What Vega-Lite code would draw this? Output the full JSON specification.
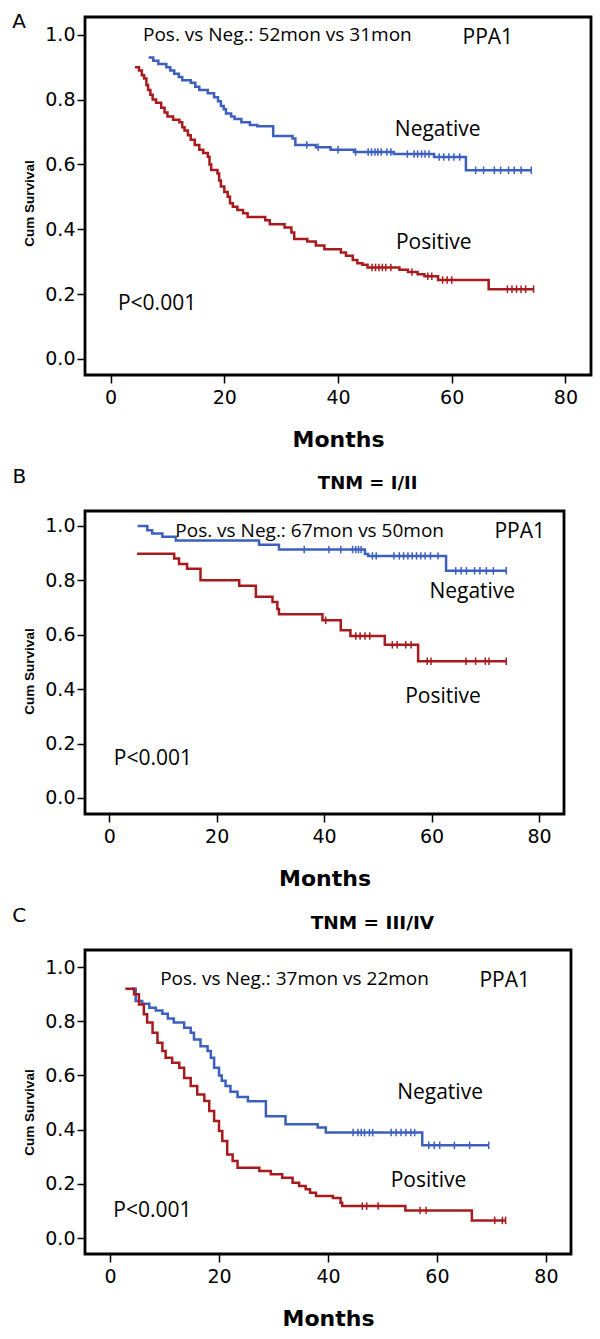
{
  "$schema": "https://vega.github.io/schema/vega-lite/v6.json",
  "background": "white",
  "padding": {"left": 10, "top": 10, "right": 5, "bottom": 5},
  "bounds": "flush",
  "spacing": 136,
  "config": {
    "view": {"stroke": "black", "strokeWidth": 2.8},
    "axis": {"domain": false, "grid": false, "tickColor": "black", "tickWidth": 1.5, "tickSize": 8, "labelFont": "DejaVu Sans", "labelFontSize": 19, "labelColor": "black", "titleColor": "black"},
    "axisX": {"labelPadding": 5, "titleFont": "DejaVu Sans", "titleFontWeight": "bold", "titleFontSize": 22, "titlePadding": 22},
    "axisY": {"labelPadding": 2, "titleFont": "Liberation Sans", "titleFontWeight": "bold", "titleFontSize": 13.5, "titlePadding": 8}
  },
  "datasets": {
    "A": [
      {"g":"Negative","t":6.7,"s":0.93,"c":0},{"g":"Negative","t":7.5,"s":0.92,"c":0},{"g":"Negative","t":8.4,"s":0.91,"c":0},{"g":"Negative","t":9.8,"s":0.90,"c":0},{"g":"Negative","t":10.5,"s":0.89,"c":0},{"g":"Negative","t":11.2,"s":0.88,"c":0},{"g":"Negative","t":12.0,"s":0.87,"c":0},{"g":"Negative","t":12.6,"s":0.86,"c":0},{"g":"Negative","t":14.1,"s":0.852,"c":0},{"g":"Negative","t":14.9,"s":0.84,"c":0},{"g":"Negative","t":15.6,"s":0.83,"c":0},{"g":"Negative","t":17.1,"s":0.82,"c":0},{"g":"Negative","t":18.2,"s":0.807,"c":0},{"g":"Negative","t":18.9,"s":0.795,"c":0},{"g":"Negative","t":19.4,"s":0.78,"c":0},{"g":"Negative","t":19.9,"s":0.77,"c":0},{"g":"Negative","t":20.3,"s":0.757,"c":0},{"g":"Negative","t":21.2,"s":0.748,"c":0},{"g":"Negative","t":21.8,"s":0.74,"c":0},{"g":"Negative","t":23.0,"s":0.73,"c":0},{"g":"Negative","t":24.5,"s":0.722,"c":0},{"g":"Negative","t":25.8,"s":0.718,"c":0},{"g":"Negative","t":28.6,"s":0.688,"c":0},{"g":"Negative","t":32.0,"s":0.68,"c":0},{"g":"Negative","t":32.5,"s":0.66,"c":0},{"g":"Negative","t":34.5,"s":0.66,"c":1},{"g":"Negative","t":36.1,"s":0.653,"c":0},{"g":"Negative","t":36.5,"s":0.653,"c":1},{"g":"Negative","t":38.7,"s":0.645,"c":0},{"g":"Negative","t":40.0,"s":0.645,"c":1},{"g":"Negative","t":42.8,"s":0.638,"c":0},{"g":"Negative","t":43.1,"s":0.638,"c":1},{"g":"Negative","t":45.3,"s":0.638,"c":1},{"g":"Negative","t":45.9,"s":0.638,"c":1},{"g":"Negative","t":46.5,"s":0.638,"c":1},{"g":"Negative","t":47.0,"s":0.638,"c":1},{"g":"Negative","t":47.6,"s":0.638,"c":1},{"g":"Negative","t":48.6,"s":0.638,"c":1},{"g":"Negative","t":49.3,"s":0.638,"c":1},{"g":"Negative","t":49.8,"s":0.632,"c":0},{"g":"Negative","t":52.2,"s":0.632,"c":1},{"g":"Negative","t":53.4,"s":0.632,"c":1},{"g":"Negative","t":54.0,"s":0.632,"c":1},{"g":"Negative","t":54.7,"s":0.632,"c":1},{"g":"Negative","t":55.3,"s":0.632,"c":1},{"g":"Negative","t":56.0,"s":0.632,"c":1},{"g":"Negative","t":56.9,"s":0.623,"c":0},{"g":"Negative","t":57.8,"s":0.623,"c":1},{"g":"Negative","t":58.6,"s":0.623,"c":1},{"g":"Negative","t":59.5,"s":0.623,"c":1},{"g":"Negative","t":60.4,"s":0.623,"c":1},{"g":"Negative","t":61.4,"s":0.623,"c":1},{"g":"Negative","t":62.5,"s":0.582,"c":0},{"g":"Negative","t":64.2,"s":0.582,"c":1},{"g":"Negative","t":65.6,"s":0.582,"c":1},{"g":"Negative","t":67.5,"s":0.582,"c":1},{"g":"Negative","t":68.6,"s":0.582,"c":1},{"g":"Negative","t":70.0,"s":0.582,"c":1},{"g":"Negative","t":71.0,"s":0.582,"c":1},{"g":"Negative","t":72.2,"s":0.582,"c":1},{"g":"Negative","t":74.0,"s":0.582,"c":1},
      {"g":"Positive","t":4.3,"s":0.90,"c":0},{"g":"Positive","t":5.0,"s":0.89,"c":0},{"g":"Positive","t":5.5,"s":0.875,"c":0},{"g":"Positive","t":5.9,"s":0.865,"c":0},{"g":"Positive","t":6.3,"s":0.845,"c":0},{"g":"Positive","t":6.6,"s":0.83,"c":0},{"g":"Positive","t":7.0,"s":0.815,"c":0},{"g":"Positive","t":7.4,"s":0.80,"c":0},{"g":"Positive","t":8.0,"s":0.79,"c":0},{"g":"Positive","t":8.9,"s":0.775,"c":0},{"g":"Positive","t":9.5,"s":0.76,"c":0},{"g":"Positive","t":10.0,"s":0.748,"c":0},{"g":"Positive","t":11.0,"s":0.738,"c":0},{"g":"Positive","t":12.1,"s":0.73,"c":0},{"g":"Positive","t":12.6,"s":0.715,"c":0},{"g":"Positive","t":13.0,"s":0.705,"c":0},{"g":"Positive","t":13.6,"s":0.69,"c":0},{"g":"Positive","t":14.1,"s":0.676,"c":0},{"g":"Positive","t":14.8,"s":0.66,"c":0},{"g":"Positive","t":15.6,"s":0.645,"c":0},{"g":"Positive","t":16.3,"s":0.635,"c":0},{"g":"Positive","t":17.1,"s":0.624,"c":0},{"g":"Positive","t":17.4,"s":0.60,"c":0},{"g":"Positive","t":17.7,"s":0.583,"c":0},{"g":"Positive","t":18.8,"s":0.572,"c":0},{"g":"Positive","t":19.1,"s":0.55,"c":0},{"g":"Positive","t":19.4,"s":0.532,"c":0},{"g":"Positive","t":20.0,"s":0.515,"c":0},{"g":"Positive","t":20.6,"s":0.50,"c":0},{"g":"Positive","t":21.0,"s":0.48,"c":0},{"g":"Positive","t":21.5,"s":0.469,"c":0},{"g":"Positive","t":22.3,"s":0.459,"c":0},{"g":"Positive","t":23.3,"s":0.449,"c":0},{"g":"Positive","t":24.1,"s":0.438,"c":0},{"g":"Positive","t":27.2,"s":0.428,"c":0},{"g":"Positive","t":28.0,"s":0.415,"c":0},{"g":"Positive","t":30.6,"s":0.405,"c":0},{"g":"Positive","t":31.8,"s":0.39,"c":0},{"g":"Positive","t":32.3,"s":0.37,"c":0},{"g":"Positive","t":34.6,"s":0.362,"c":0},{"g":"Positive","t":36.1,"s":0.35,"c":0},{"g":"Positive","t":37.6,"s":0.338,"c":0},{"g":"Positive","t":40.5,"s":0.328,"c":0},{"g":"Positive","t":41.4,"s":0.318,"c":0},{"g":"Positive","t":42.6,"s":0.305,"c":0},{"g":"Positive","t":43.4,"s":0.295,"c":0},{"g":"Positive","t":44.3,"s":0.29,"c":0},{"g":"Positive","t":45.2,"s":0.282,"c":0},{"g":"Positive","t":46.0,"s":0.282,"c":1},{"g":"Positive","t":46.6,"s":0.282,"c":1},{"g":"Positive","t":47.2,"s":0.282,"c":1},{"g":"Positive","t":47.8,"s":0.282,"c":1},{"g":"Positive","t":48.4,"s":0.282,"c":1},{"g":"Positive","t":49.3,"s":0.282,"c":1},{"g":"Positive","t":50.8,"s":0.275,"c":0},{"g":"Positive","t":52.3,"s":0.268,"c":0},{"g":"Positive","t":53.0,"s":0.268,"c":1},{"g":"Positive","t":54.0,"s":0.261,"c":0},{"g":"Positive","t":55.2,"s":0.255,"c":0},{"g":"Positive","t":55.8,"s":0.255,"c":1},{"g":"Positive","t":56.5,"s":0.255,"c":1},{"g":"Positive","t":57.6,"s":0.243,"c":0},{"g":"Positive","t":58.4,"s":0.243,"c":1},{"g":"Positive","t":59.2,"s":0.243,"c":1},{"g":"Positive","t":60.0,"s":0.243,"c":1},{"g":"Positive","t":66.5,"s":0.215,"c":0},{"g":"Positive","t":69.8,"s":0.215,"c":1},{"g":"Positive","t":70.6,"s":0.215,"c":1},{"g":"Positive","t":71.4,"s":0.215,"c":1},{"g":"Positive","t":72.2,"s":0.215,"c":1},{"g":"Positive","t":73.0,"s":0.215,"c":1},{"g":"Positive","t":74.4,"s":0.215,"c":1}
    ],
    "B": [
      {"g":"Negative","t":5.3,"s":1.0,"c":0},{"g":"Negative","t":7.1,"s":0.984,"c":0},{"g":"Negative","t":8.0,"s":0.972,"c":0},{"g":"Negative","t":9.9,"s":0.96,"c":0},{"g":"Negative","t":12.4,"s":0.947,"c":0},{"g":"Negative","t":27.9,"s":0.931,"c":0},{"g":"Negative","t":31.6,"s":0.913,"c":0},{"g":"Negative","t":36.3,"s":0.913,"c":1},{"g":"Negative","t":40.9,"s":0.913,"c":1},{"g":"Negative","t":43.1,"s":0.913,"c":1},{"g":"Negative","t":45.3,"s":0.913,"c":1},{"g":"Negative","t":45.9,"s":0.913,"c":1},{"g":"Negative","t":46.4,"s":0.913,"c":1},{"g":"Negative","t":46.9,"s":0.913,"c":1},{"g":"Negative","t":47.6,"s":0.897,"c":0},{"g":"Negative","t":48.2,"s":0.89,"c":0},{"g":"Negative","t":49.0,"s":0.89,"c":1},{"g":"Negative","t":49.7,"s":0.89,"c":1},{"g":"Negative","t":53.0,"s":0.89,"c":1},{"g":"Negative","t":54.0,"s":0.89,"c":1},{"g":"Negative","t":54.8,"s":0.89,"c":1},{"g":"Negative","t":55.6,"s":0.89,"c":1},{"g":"Negative","t":56.4,"s":0.89,"c":1},{"g":"Negative","t":57.2,"s":0.89,"c":1},{"g":"Negative","t":58.0,"s":0.89,"c":1},{"g":"Negative","t":58.8,"s":0.89,"c":1},{"g":"Negative","t":59.8,"s":0.89,"c":1},{"g":"Negative","t":61.2,"s":0.89,"c":1},{"g":"Negative","t":62.7,"s":0.835,"c":0},{"g":"Negative","t":64.5,"s":0.835,"c":1},{"g":"Negative","t":65.5,"s":0.835,"c":1},{"g":"Negative","t":66.5,"s":0.835,"c":1},{"g":"Negative","t":68.0,"s":0.835,"c":1},{"g":"Negative","t":69.0,"s":0.835,"c":1},{"g":"Negative","t":70.2,"s":0.835,"c":1},{"g":"Negative","t":71.5,"s":0.835,"c":1},{"g":"Negative","t":73.9,"s":0.835,"c":1},
      {"g":"Positive","t":5.2,"s":0.898,"c":0},{"g":"Positive","t":12.1,"s":0.88,"c":0},{"g":"Positive","t":13.0,"s":0.86,"c":0},{"g":"Positive","t":14.5,"s":0.843,"c":0},{"g":"Positive","t":17.0,"s":0.80,"c":0},{"g":"Positive","t":24.2,"s":0.78,"c":0},{"g":"Positive","t":27.3,"s":0.74,"c":0},{"g":"Positive","t":30.4,"s":0.72,"c":0},{"g":"Positive","t":31.3,"s":0.695,"c":0},{"g":"Positive","t":31.6,"s":0.675,"c":0},{"g":"Positive","t":39.7,"s":0.653,"c":0},{"g":"Positive","t":40.3,"s":0.653,"c":1},{"g":"Positive","t":43.1,"s":0.617,"c":0},{"g":"Positive","t":44.9,"s":0.595,"c":0},{"g":"Positive","t":45.9,"s":0.595,"c":1},{"g":"Positive","t":46.7,"s":0.595,"c":1},{"g":"Positive","t":47.6,"s":0.595,"c":1},{"g":"Positive","t":48.5,"s":0.595,"c":1},{"g":"Positive","t":51.3,"s":0.563,"c":0},{"g":"Positive","t":52.7,"s":0.563,"c":1},{"g":"Positive","t":53.6,"s":0.563,"c":1},{"g":"Positive","t":55.2,"s":0.563,"c":1},{"g":"Positive","t":56.2,"s":0.563,"c":1},{"g":"Positive","t":57.5,"s":0.503,"c":0},{"g":"Positive","t":59.2,"s":0.503,"c":1},{"g":"Positive","t":59.9,"s":0.503,"c":1},{"g":"Positive","t":66.4,"s":0.503,"c":1},{"g":"Positive","t":68.2,"s":0.503,"c":1},{"g":"Positive","t":70.0,"s":0.503,"c":1},{"g":"Positive","t":70.7,"s":0.503,"c":1},{"g":"Positive","t":73.9,"s":0.503,"c":1}
    ],
    "C": [
      {"g":"Negative","t":4.0,"s":0.92,"c":0},{"g":"Negative","t":4.7,"s":0.875,"c":0},{"g":"Negative","t":5.9,"s":0.865,"c":0},{"g":"Negative","t":7.2,"s":0.85,"c":0},{"g":"Negative","t":8.4,"s":0.84,"c":0},{"g":"Negative","t":9.6,"s":0.828,"c":0},{"g":"Negative","t":10.6,"s":0.81,"c":0},{"g":"Negative","t":11.7,"s":0.795,"c":0},{"g":"Negative","t":13.6,"s":0.776,"c":0},{"g":"Negative","t":14.8,"s":0.758,"c":0},{"g":"Negative","t":15.4,"s":0.733,"c":0},{"g":"Negative","t":16.6,"s":0.708,"c":0},{"g":"Negative","t":17.9,"s":0.69,"c":0},{"g":"Negative","t":18.5,"s":0.665,"c":0},{"g":"Negative","t":19.1,"s":0.628,"c":0},{"g":"Negative","t":20.0,"s":0.60,"c":0},{"g":"Negative","t":20.5,"s":0.58,"c":0},{"g":"Negative","t":21.2,"s":0.561,"c":0},{"g":"Negative","t":22.1,"s":0.54,"c":0},{"g":"Negative","t":23.4,"s":0.52,"c":0},{"g":"Negative","t":25.3,"s":0.505,"c":0},{"g":"Negative","t":28.6,"s":0.449,"c":0},{"g":"Negative","t":32.2,"s":0.42,"c":0},{"g":"Negative","t":38.1,"s":0.408,"c":0},{"g":"Negative","t":39.6,"s":0.389,"c":0},{"g":"Negative","t":44.6,"s":0.389,"c":1},{"g":"Negative","t":45.5,"s":0.389,"c":1},{"g":"Negative","t":46.1,"s":0.389,"c":1},{"g":"Negative","t":46.7,"s":0.389,"c":1},{"g":"Negative","t":47.6,"s":0.389,"c":1},{"g":"Negative","t":48.2,"s":0.389,"c":1},{"g":"Negative","t":51.6,"s":0.389,"c":1},{"g":"Negative","t":52.5,"s":0.389,"c":1},{"g":"Negative","t":53.4,"s":0.389,"c":1},{"g":"Negative","t":54.3,"s":0.389,"c":1},{"g":"Negative","t":55.2,"s":0.389,"c":1},{"g":"Negative","t":55.9,"s":0.389,"c":1},{"g":"Negative","t":57.3,"s":0.342,"c":0},{"g":"Negative","t":58.5,"s":0.342,"c":1},{"g":"Negative","t":59.5,"s":0.342,"c":1},{"g":"Negative","t":60.5,"s":0.342,"c":1},{"g":"Negative","t":63.2,"s":0.342,"c":1},{"g":"Negative","t":66.0,"s":0.342,"c":1},{"g":"Negative","t":69.5,"s":0.342,"c":1},
      {"g":"Positive","t":2.8,"s":0.92,"c":0},{"g":"Positive","t":4.4,"s":0.90,"c":0},{"g":"Positive","t":5.3,"s":0.862,"c":0},{"g":"Positive","t":6.2,"s":0.826,"c":0},{"g":"Positive","t":6.8,"s":0.795,"c":0},{"g":"Positive","t":7.8,"s":0.758,"c":0},{"g":"Positive","t":8.7,"s":0.721,"c":0},{"g":"Positive","t":9.6,"s":0.69,"c":0},{"g":"Positive","t":10.2,"s":0.665,"c":0},{"g":"Positive","t":11.4,"s":0.647,"c":0},{"g":"Positive","t":12.7,"s":0.628,"c":0},{"g":"Positive","t":13.6,"s":0.591,"c":0},{"g":"Positive","t":14.8,"s":0.561,"c":0},{"g":"Positive","t":16.0,"s":0.53,"c":0},{"g":"Positive","t":17.3,"s":0.506,"c":0},{"g":"Positive","t":18.2,"s":0.469,"c":0},{"g":"Positive","t":19.1,"s":0.432,"c":0},{"g":"Positive","t":20.0,"s":0.395,"c":0},{"g":"Positive","t":20.6,"s":0.358,"c":0},{"g":"Positive","t":21.5,"s":0.308,"c":0},{"g":"Positive","t":22.5,"s":0.284,"c":0},{"g":"Positive","t":23.4,"s":0.259,"c":0},{"g":"Positive","t":27.4,"s":0.247,"c":0},{"g":"Positive","t":29.5,"s":0.235,"c":0},{"g":"Positive","t":31.6,"s":0.222,"c":0},{"g":"Positive","t":33.5,"s":0.204,"c":0},{"g":"Positive","t":34.7,"s":0.192,"c":0},{"g":"Positive","t":35.9,"s":0.18,"c":0},{"g":"Positive","t":36.7,"s":0.167,"c":0},{"g":"Positive","t":37.8,"s":0.155,"c":0},{"g":"Positive","t":40.9,"s":0.148,"c":0},{"g":"Positive","t":42.3,"s":0.13,"c":0},{"g":"Positive","t":42.6,"s":0.118,"c":0},{"g":"Positive","t":46.3,"s":0.118,"c":1},{"g":"Positive","t":47.1,"s":0.118,"c":1},{"g":"Positive","t":49.2,"s":0.118,"c":1},{"g":"Positive","t":54.2,"s":0.102,"c":0},{"g":"Positive","t":56.9,"s":0.102,"c":1},{"g":"Positive","t":58.0,"s":0.102,"c":1},{"g":"Positive","t":66.4,"s":0.065,"c":0},{"g":"Positive","t":70.6,"s":0.065,"c":1},{"g":"Positive","t":72.0,"s":0.065,"c":1},{"g":"Positive","t":72.6,"s":0.065,"c":1}
    ]
  },
  "vconcat": [
    {
      "width": 506, "height": 358,
      "encoding": {
        "x": {"field": "t", "type": "quantitative", "scale": {"domain": [-4.5, 84.5], "nice": false, "zero": false}, "axis": {"values": [0, 20, 40, 60, 80], "title": "Months"}},
        "y": {"field": "s", "type": "quantitative", "scale": {"domain": [-0.05, 1.055], "nice": false, "zero": false}, "axis": {"values": [0, 0.2, 0.4, 0.6, 0.8, 1], "format": ".1f", "title": "Cum Survival", "titleY": 186}}
      },
      "layer": [
        {"data": {"name": "A"}, "mark": {"type": "line", "interpolate": "step-after", "strokeWidth": 2.5}, "encoding": {"color": {"field": "g", "type": "nominal", "scale": {"domain": ["Negative", "Positive"], "range": ["#3d5fbe", "#a81a1e"]}, "legend": null}}},
        {"data": {"name": "A"}, "transform": [{"filter": "datum.c == 1"}], "mark": {"type": "point", "shape": "M0,-1L0,1", "size": 56, "strokeWidth": 1.5, "filled": false, "opacity": 1}, "encoding": {"color": {"field": "g", "type": "nominal", "scale": {"domain": ["Negative", "Positive"], "range": ["#3d5fbe", "#a81a1e"]}, "legend": null}}},
        {"data": {"values": [{"t": 5.7, "s": 1.0, "label": "Pos. vs Neg.: 52mon vs 31mon"}]}, "mark": {"type": "text", "align": "left", "baseline": "middle", "font": "Open Sans", "fontSize": 19, "color": "black"}, "encoding": {"text": {"field": "label"}}},
        {"data": {"values": [{"t": 61.9, "s": 0.991, "label": "PPA1"}, {"t": 50.0, "s": 0.707, "label": "Negative"}, {"t": 50.2, "s": 0.358, "label": "Positive"}, {"t": 1.3, "s": 0.17, "label": "P<0.001"}]}, "mark": {"type": "text", "align": "left", "baseline": "middle", "font": "Open Sans", "fontSize": 21, "color": "black"}, "encoding": {"text": {"field": "label"}}},
        {"data": {"values": [{"t": -16.1, "s": 1.04, "label": "A"}]}, "mark": {"type": "text", "align": "center", "baseline": "middle", "font": "DejaVu Sans", "fontSize": 20, "color": "black"}, "encoding": {"text": {"field": "label"}}}
      ]
    },
    {
      "width": 479, "height": 303,
      "encoding": {
        "x": {"field": "t", "type": "quantitative", "scale": {"domain": [-4.5, 84.65], "nice": false, "zero": false}, "axis": {"values": [0, 20, 40, 60, 80], "title": "Months"}},
        "y": {"field": "s", "type": "quantitative", "scale": {"domain": [-0.059, 1.055], "nice": false, "zero": false}, "axis": {"values": [0, 0.2, 0.4, 0.6, 0.8, 1], "format": ".1f", "title": "Cum Survival", "titleY": 160}}
      },
      "layer": [
        {"data": {"name": "B"}, "mark": {"type": "line", "interpolate": "step-after", "strokeWidth": 2.5}, "encoding": {"color": {"field": "g", "type": "nominal", "scale": {"domain": ["Negative", "Positive"], "range": ["#3d5fbe", "#a81a1e"]}, "legend": null}}},
        {"data": {"name": "B"}, "transform": [{"filter": "datum.c == 1"}], "mark": {"type": "point", "shape": "M0,-1L0,1", "size": 56, "strokeWidth": 1.5, "filled": false, "opacity": 1}, "encoding": {"color": {"field": "g", "type": "nominal", "scale": {"domain": ["Negative", "Positive"], "range": ["#3d5fbe", "#a81a1e"]}, "legend": null}}},
        {"data": {"values": [{"t": 12.3, "s": 0.982, "label": "Pos. vs Neg.: 67mon vs 50mon"}]}, "mark": {"type": "text", "align": "left", "baseline": "middle", "font": "Open Sans", "fontSize": 19, "color": "black"}, "encoding": {"text": {"field": "label"}}},
        {"data": {"values": [{"t": 71.7, "s": 0.978, "label": "PPA1"}, {"t": 59.6, "s": 0.757, "label": "Negative"}, {"t": 55.1, "s": 0.371, "label": "Positive"}, {"t": 0.86, "s": 0.143, "label": "P<0.001"}]}, "mark": {"type": "text", "align": "left", "baseline": "middle", "font": "Open Sans", "fontSize": 21, "color": "black"}, "encoding": {"text": {"field": "label"}}},
        {"data": {"values": [{"t": -16.7, "s": 1.18, "label": "B"}]}, "mark": {"type": "text", "align": "center", "baseline": "middle", "font": "DejaVu Sans", "fontSize": 20, "color": "black"}, "encoding": {"text": {"field": "label"}}},
        {"data": {"values": [{"t": 48.1, "s": 1.154, "label": "TNM = I/II"}]}, "mark": {"type": "text", "align": "center", "baseline": "middle", "font": "DejaVu Sans", "fontWeight": "bold", "fontSize": 18, "color": "black"}, "encoding": {"text": {"field": "label"}}}
      ]
    },
    {
      "width": 486, "height": 304,
      "encoding": {
        "x": {"field": "t", "type": "quantitative", "scale": {"domain": [-4.6, 84.6], "nice": false, "zero": false}, "axis": {"values": [0, 20, 40, 60, 80], "title": "Months"}},
        "y": {"field": "s", "type": "quantitative", "scale": {"domain": [-0.059, 1.063], "nice": false, "zero": false}, "axis": {"values": [0, 0.2, 0.4, 0.6, 0.8, 1], "format": ".1f", "title": "Cum Survival", "titleY": 162}}
      },
      "layer": [
        {"data": {"name": "C"}, "mark": {"type": "line", "interpolate": "step-after", "strokeWidth": 2.5}, "encoding": {"color": {"field": "g", "type": "nominal", "scale": {"domain": ["Negative", "Positive"], "range": ["#3d5fbe", "#a81a1e"]}, "legend": null}}},
        {"data": {"name": "C"}, "transform": [{"filter": "datum.c == 1"}], "mark": {"type": "point", "shape": "M0,-1L0,1", "size": 56, "strokeWidth": 1.5, "filled": false, "opacity": 1}, "encoding": {"color": {"field": "g", "type": "nominal", "scale": {"domain": ["Negative", "Positive"], "range": ["#3d5fbe", "#a81a1e"]}, "legend": null}}},
        {"data": {"values": [{"t": 9.2, "s": 0.956, "label": "Pos. vs Neg.: 37mon vs 22mon"}]}, "mark": {"type": "text", "align": "left", "baseline": "middle", "font": "Open Sans", "fontSize": 19, "color": "black"}, "encoding": {"text": {"field": "label"}}},
        {"data": {"values": [{"t": 67.8, "s": 0.948, "label": "PPA1"}, {"t": 52.7, "s": 0.535, "label": "Negative"}, {"t": 51.5, "s": 0.21, "label": "Positive"}, {"t": 0.6, "s": 0.10, "label": "P<0.001"}]}, "mark": {"type": "text", "align": "left", "baseline": "middle", "font": "Open Sans", "fontSize": 21, "color": "black"}, "encoding": {"text": {"field": "label"}}},
        {"data": {"values": [{"t": -16.65, "s": 1.19, "label": "C"}]}, "mark": {"type": "text", "align": "center", "baseline": "middle", "font": "DejaVu Sans", "fontSize": 20, "color": "black"}, "encoding": {"text": {"field": "label"}}},
        {"data": {"values": [{"t": 48.15, "s": 1.162, "label": "TNM = III/IV"}]}, "mark": {"type": "text", "align": "center", "baseline": "middle", "font": "DejaVu Sans", "fontWeight": "bold", "fontSize": 18.5, "color": "black"}, "encoding": {"text": {"field": "label"}}}
      ]
    }
  ]
}
